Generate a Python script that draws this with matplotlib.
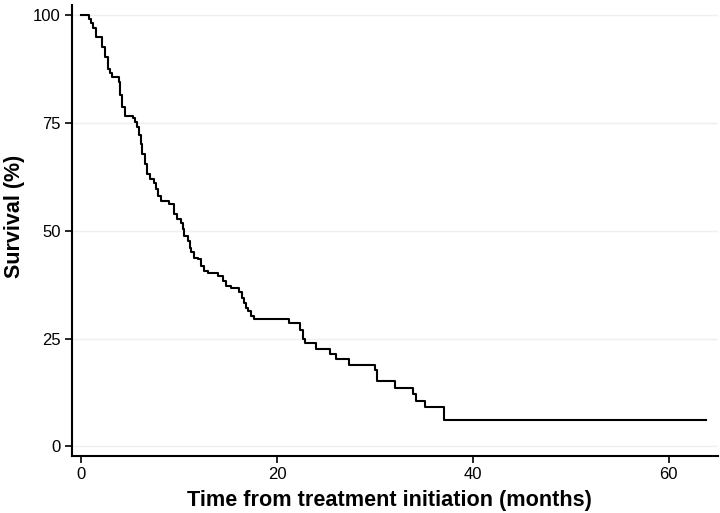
import numpy as np
from matplotlib import pyplot as plt

# Kaplan-Meier steps: event time (months), survival after it (%)
times = [0.0, 0.82, 1.02, 1.26, 1.50, 2.18, 2.42, 2.80, 2.93, 3.13, 3.89, 3.99,
         4.16, 4.50, 5.32, 5.52, 5.76, 5.93, 6.10, 6.27, 6.54, 6.78, 7.02, 7.46,
         7.63, 7.87, 8.15, 9.00, 9.51, 9.75, 10.19, 10.36, 10.53, 10.87, 11.11,
         11.21, 11.55, 11.89, 12.24, 12.58, 12.92, 14.01, 14.52, 14.79, 15.30,
         16.16, 16.43, 16.67, 16.84, 17.00, 17.35, 17.69, 21.2, 22.36, 22.63,
         22.87, 24.0, 25.46, 26.04, 27.33, 29.96, 30.2, 32.0, 33.9, 34.2, 35.1,
         37.0]
survival = [100.0, 99.1, 98.1, 97.1, 94.8, 92.6, 90.3, 87.6, 86.6, 85.7, 84.5, 81.4,
            78.8, 76.7, 76.2, 75.2, 74.0, 72.1, 70.2, 67.8, 65.5, 63.2, 62.0, 61.0,
            59.7, 58.1, 57.0, 56.2, 53.9, 52.7, 51.9, 50.4, 48.8, 47.7, 46.1,
            45.0, 43.8, 43.4, 41.9, 40.7, 40.3, 39.5, 38.4, 37.2, 36.7,
            35.7, 34.5, 33.3, 32.2, 31.4, 30.2, 29.5, 28.7, 27.1, 24.8,
            24.0, 22.7, 21.5, 20.2, 18.8, 17.8, 15.1, 13.6, 12.2, 10.5, 9.1,
            6.2]
t_end = 63.8

yticks = [0, 25, 50, 75, 100]
xticks = [0, 20, 40, 60]

plt.rcParams['font.family'] = ['Liberation Sans', 'DejaVu Sans']

fig = plt.figure(figsize=(7.2, 5.13), dpi=100)
ax = fig.add_axes([0.1, 0.112, 0.897, 0.878])

for y in yticks:
    ax.axhline(y, color='#efefef', lw=1, zorder=0)

ax.step(times + [t_end], survival + [survival[-1]], where='post', color='black', lw=1.5)

ax.set_xlim(-0.92, 65.0)
ax.set_ylim(-2.1, 102.3)
ax.set_xticks(xticks)
ax.set_yticks(yticks)
ax.tick_params(labelsize=12, length=5, width=1.2, direction='out', pad=3)
for s in ['top', 'right']:
    ax.spines[s].set_visible(False)
for s in ['left', 'bottom']:
    ax.spines[s].set_linewidth(1.5)

ax.set_xlabel('Time from treatment initiation (months)', fontsize=15.6,
              fontweight='bold')
ax.set_ylabel('Survival (%)', fontsize=15.5, fontweight='bold')
ax.xaxis.set_label_coords(0.491, -0.077)
ax.yaxis.set_label_coords(-0.073, 0.532)

fig.savefig('out.png', dpi=100)
